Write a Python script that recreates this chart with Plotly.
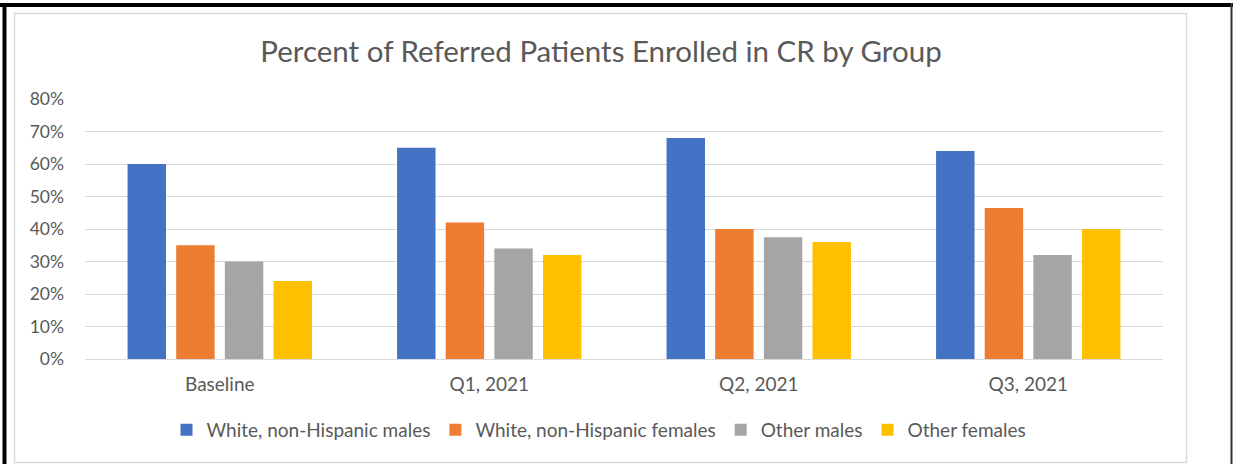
import plotly.graph_objects as go

categories = ["Baseline", "Q1, 2021", "Q2, 2021", "Q3, 2021"]
series_names = ["White, non-Hispanic males", "White, non-Hispanic females", "Other males", "Other females"]
white_males = [0.60, 0.65, 0.68, 0.64]
white_females = [0.35, 0.42, 0.40, 0.465]
other_males = [0.30, 0.34, 0.375, 0.32]
other_females = [0.24, 0.32, 0.36, 0.40]
colors = ["#4472C4", "#ED7D31", "#A5A5A5", "#FFC000"]
y_ticks = [0, 0.1, 0.2, 0.3, 0.4, 0.5, 0.6, 0.7, 0.8]
title_text = "Percent of Referred Patients Enrolled in CR by Group"

W, H = 1233, 464
ML, MR, MT, MB = 85, 70, 99, 105
PW, PH = W - ML - MR, H - MT - MB

def px_x(p):
    return (p - ML) / PW

def px_y(p):
    return (H - MB - p) / PH

FONT = "Lato"
GRAY_TXT = "#595959"

fig = go.Figure()
for name, vals, col in zip(series_names, [white_males, white_females, other_males, other_females], colors):
    fig.add_trace(go.Bar(
        x=categories, y=vals, name=name,
        marker=dict(color=col, line=dict(width=0)),
    ))

shapes = [
    # inner light gray chart-area border
    dict(type="rect", xref="paper", yref="paper",
         x0=px_x(14.5), x1=px_x(1186.5), y0=px_y(462.5), y1=px_y(13.5),
         line=dict(color="#D9D9D9", width=1.5), fillcolor="rgba(0,0,0,0)", layer="below"),
    # outer black frame: top, left, right
    dict(type="line", xref="paper", yref="paper",
         x0=px_x(0), x1=px_x(1233), y0=px_y(5), y1=px_y(5),
         line=dict(color="#000000", width=4)),
    dict(type="line", xref="paper", yref="paper",
         x0=px_x(4.5), x1=px_x(4.5), y0=px_y(3), y1=px_y(464),
         line=dict(color="#000000", width=4)),
    dict(type="line", xref="paper", yref="paper",
         x0=px_x(1231.5), x1=px_x(1231.5), y0=px_y(3), y1=px_y(464),
         line=dict(color="#333333", width=2)),
]

fig.update_layout(
    width=W, height=H,
    margin=dict(l=ML, r=MR, t=MT, b=MB, pad=0),
    paper_bgcolor="white", plot_bgcolor="white",
    barmode="group", bargap=0.278, bargroupgap=0.21,
    font=dict(family=FONT, color=GRAY_TXT, size=19),
    title=dict(text=title_text, x=px_x(601), xanchor="center",
               y=1 - 52 / H, yanchor="middle", xref="paper",
               font=dict(family=FONT, size=29.5, color=GRAY_TXT)),
    yaxis=dict(range=[0, 0.8], tickvals=y_ticks, tickformat=".0%",
               showgrid=True, gridcolor="#D9D9D9", gridwidth=1.3,
               zeroline=True, zerolinecolor="#D9D9D9", zerolinewidth=1.3,
               showline=False, ticks="", ticklabelstandoff=20,
               tickfont=dict(size=17.5, color=GRAY_TXT)),
    xaxis=dict(showline=False, ticks="", ticklabelstandoff=12,
               tickfont=dict(size=19, color=GRAY_TXT)),
    legend=dict(orientation="h", x=px_x(599), xanchor="center",
                y=px_y(430), yanchor="middle",
                font=dict(size=19, color=GRAY_TXT), itemwidth=30,
                traceorder="normal", bgcolor="rgba(0,0,0,0)"),
    shapes=shapes,
    showlegend=True,
)

fig.write_html("out.html", config={"displayModeBar": False},
               post_script="document.body.style.margin='0';document.body.style.overflow='hidden';")
